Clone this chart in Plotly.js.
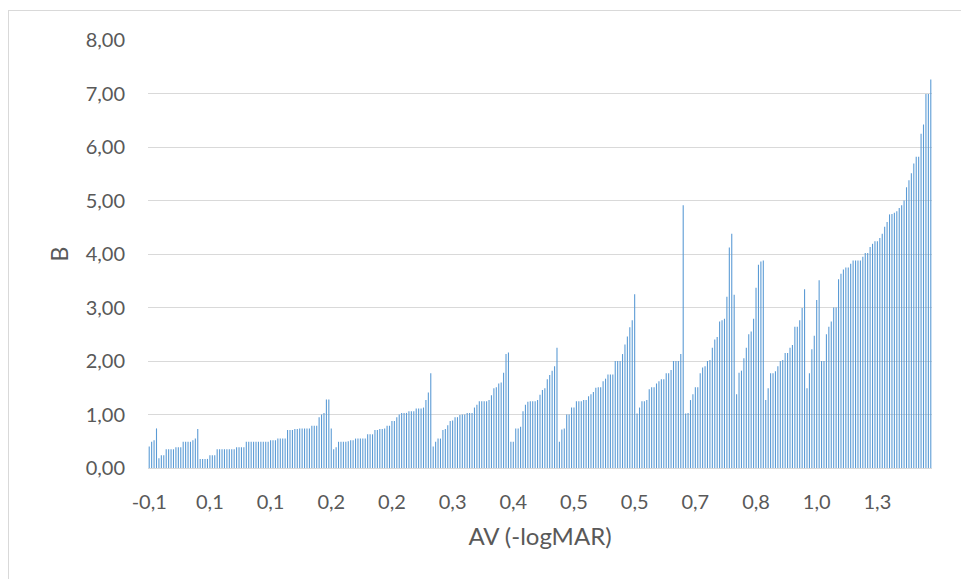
<!DOCTYPE html>
<html>
<head>
<meta charset="utf-8">
<script src="https://cdn.plot.ly/plotly-3.0.1.min.js"></script>
<style>
  html, body { margin: 0; padding: 0; background: #ffffff; }
  #wrap { position: relative; width: 961px; height: 579px; overflow: hidden; }
  #chart { position: absolute; left: 0; top: 0; width: 961px; height: 579px; }
  #frame { position: absolute; left: 8px; top: 10px; width: 1000px; height: 620px;
           border: 1px solid #D9D9D9; pointer-events: none; }
</style>
</head>
<body>
<div id="wrap">
  <div id="chart"></div>
  <div id="frame"></div>
</div>
<script>
// B values, read left to right, in four consecutive runs
const valuesPart1 = [
  0.40,0.49,0.52,0.74,0.18,0.24,0.24,0.35,0.35,0.35,
  0.35,0.39,0.39,0.39,0.49,0.49,0.49,0.49,0.52,0.55,
  0.73,0.17,0.17,0.17,0.17,0.24,0.24,0.24,0.35,0.35,
  0.35,0.35,0.35,0.35,0.35,0.35,0.39,0.39,0.39,0.39,
  0.49,0.49,0.49,0.49,0.49,0.49,0.49,0.49,0.49,0.49,
  0.52,0.52,0.52,0.55,0.55,0.55,0.55,0.71,0.71,0.71,
  0.73,0.73,0.74,0.74,0.74,0.74,0.74,0.79,0.79,0.79,
  0.95,1.00,1.03,1.28,1.28,0.74,0.35,0.39,0.49,0.49,
  0.49
];
const valuesPart2 = [
  0.49,0.50,0.52,0.52,0.55,0.55,0.55,0.55,0.55,0.63,
  0.63,0.63,0.71,0.71,0.73,0.73,0.74,0.79,0.79,0.88,
  0.88,0.95,1.00,1.03,1.03,1.03,1.06,1.06,1.06,1.11,
  1.11,1.11,1.13,1.27,1.41,1.77,0.40,0.49,0.55,0.55,
  0.71,0.73,0.80,0.88,0.89,0.95,0.95,0.99,1.00,1.00,
  1.03,1.03,1.03,1.13,1.18,1.25,1.25,1.25,1.25,1.27,
  1.36,1.49,1.51,1.58,1.60,1.78,2.13,2.16,0.49,0.49,
  0.74,0.74,0.77,1.06,1.18,1.24,1.25,1.25,1.25,1.27,
  1.37,1.46,1.49
];
const valuesPart3 = [
  1.66,1.74,1.82,1.90,2.25,0.49,0.72,0.74,1.00,1.00,
  1.13,1.13,1.25,1.25,1.25,1.27,1.27,1.34,1.38,1.42,
  1.50,1.51,1.51,1.62,1.67,1.75,1.75,1.75,2.00,2.00,
  2.00,2.13,2.31,2.46,2.63,2.76,3.25,1.02,1.13,1.25,
  1.25,1.27,1.47,1.51,1.51,1.58,1.62,1.66,1.66,1.77,
  1.77,1.83,2.00,2.00,2.00,2.13,4.91,1.02,1.03,1.27,
  1.38,1.51,1.51,1.77,1.88,1.90,2.00,2.02,2.25,2.40,
  2.45,2.74,2.76,2.79,3.20,4.12,4.38,3.24,1.38,1.78,
  1.82,2.05
];
const valuesPart4 = [
  2.25,2.50,2.55,2.79,3.37,3.80,3.86,3.88,1.27,1.49,
  1.77,1.77,1.81,1.90,2.00,2.02,2.15,2.15,2.25,2.30,
  2.64,2.64,2.76,2.99,3.34,1.49,1.77,2.22,2.47,3.14,
  3.51,2.00,2.00,2.50,2.64,2.74,3.00,3.00,3.53,3.63,
  3.71,3.75,3.75,3.82,3.88,3.88,3.88,3.88,3.95,4.02,
  4.02,4.13,4.19,4.24,4.24,4.30,4.38,4.51,4.60,4.74,
  4.75,4.77,4.80,4.86,4.91,5.00,5.25,5.38,5.51,5.69,
  5.82,5.82,6.25,6.42,6.99,6.99,7.26
];

// category tick labels (AV, -logMAR), shown every 25th category
const tickLabels = ["-0,1","0,1","0,1","0,2","0,2","0,3","0,4","0,5","0,5","0,7","0,8","1,0","1,3"];
const labelStep = 25;
const yTicks = [0,1,2,3,4,5,6,7,8];

const bValues = valuesPart1.concat(valuesPart2, valuesPart3, valuesPart4);
const categories = bValues.map((_, i) => i);
const tickPositions = tickLabels.map((_, k) => k * labelStep);

const textColor = '#595959';
const fontFamily = 'Lato, "Open Sans", sans-serif';

const trace = {
  type: 'bar',
  x: categories,
  y: bValues,
  marker: { color: '#5B9BD5', line: { width: 0 } },
  hoverinfo: 'y'
};

const layout = {
  width: 961,
  height: 579,
  margin: { l: 148, r: 29, t: 40, b: 111, pad: 0 },
  paper_bgcolor: '#ffffff',
  plot_bgcolor: '#ffffff',
  bargap: 0.55,
  showlegend: false,
  separators: ', ',
  font: { family: fontFamily, color: textColor, size: 20 },
  xaxis: {
    type: 'linear',
    range: [-0.5, bValues.length - 0.5],
    tickmode: 'array',
    tickvals: tickPositions,
    ticktext: tickLabels,
    showgrid: false,
    zeroline: false,
    showline: true,
    linecolor: '#D9D9D9',
    linewidth: 1,
    ticks: '',
    ticklabelstandoff: 16,
    tickfont: { family: fontFamily, color: textColor, size: 20 },
    automargin: false,
    title: { text: 'AV (-logMAR)', font: { family: fontFamily, color: textColor, size: 24 }, standoff: 16 }
  },
  yaxis: {
    range: [0, 8],
    tickmode: 'array',
    tickvals: yTicks,
    tickformat: '.2f',
    showgrid: true,
    gridcolor: '#D9D9D9',
    gridwidth: 1,
    zeroline: false,
    showline: false,
    ticks: '',
    ticklabelstandoff: 22,
    tickfont: { family: fontFamily, color: textColor, size: 20 },
    automargin: false,
    title: { text: 'B', font: { family: fontFamily, color: textColor, size: 23 }, standoff: 10 }
  }
};

Plotly.newPlot('chart', [trace], layout, { staticPlot: true, displayModeBar: false });
</script>
</body>
</html>
